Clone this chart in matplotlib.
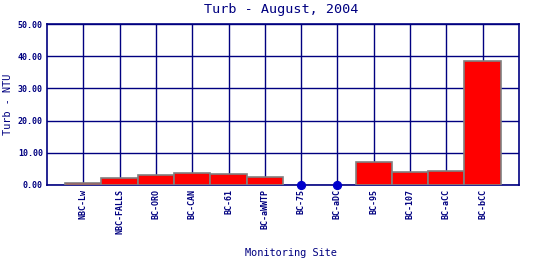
import numpy as np
import matplotlib
matplotlib.use("Agg")
import matplotlib.pyplot as plt

# -------- data --------
sites = ["NBC-Lw", "NBC-FALLS", "BC-ORO", "BC-CAN", "BC-61", "BC-aWWTP",
         "BC-75", "BC-aDC", "BC-95", "BC-107", "BC-aCC", "BC-bCC"]
turb = [0.6, 2.2, 3.1, 3.7, 3.4, 2.5, 0.0, 0.0, 7.2, 4.0, 4.4, 38.4]
zero_sites = [False, False, False, False, False, False,
              True, True, False, False, False, False]
y_ticks = [0, 10, 20, 30, 40, 50]

NAVY = "#000080"
MONO = "DejaVu Sans Mono"

fig = plt.figure(figsize=(5.4, 2.6), dpi=100)
ax = fig.add_axes([0.087, 0.2885, 0.874, 0.619])

x = np.arange(1, len(sites) + 1)
vals = np.array(turb)
mask = np.array(zero_sites)

ax.bar(x[~mask], vals[~mask], width=1.0, color="#ff0000",
       edgecolor="#808080", linewidth=1.2, zorder=3)
ax.scatter(x[mask], vals[mask], s=32, color="#0000cc", zorder=4, clip_on=False)

ax.set_xlim(0, len(sites) + 1)
ax.set_ylim(0, 50)
ax.set_xticks(x)
ax.set_xticklabels(sites, rotation=90, fontsize=6, family=MONO,
                   color=NAVY, fontweight="bold")
ax.set_yticks(y_ticks)
ax.set_yticklabels([f"{v:.2f}" for v in y_ticks], fontsize=6, family=MONO,
                   color=NAVY, fontweight="bold")
ax.tick_params(length=0, pad=3)

ax.grid(True, color=NAVY, linewidth=1.0, zorder=1)
ax.set_axisbelow(True)
for s in ax.spines.values():
    s.set_color(NAVY)
    s.set_linewidth(1.2)

fig.text(0.52, 0.963, "Turb - August, 2004", ha="center", va="center",
         fontsize=9.7, family=MONO, color=NAVY)
fig.text(0.538, 0.028, "Monitoring Site", ha="center", va="center",
         fontsize=7.4, family=MONO, color=NAVY)
fig.text(0.015, 0.598, "Turb - NTU", ha="center", va="center", rotation=90,
         fontsize=7.4, family=MONO, color=NAVY)

fig.savefig("out.png", dpi=100)
